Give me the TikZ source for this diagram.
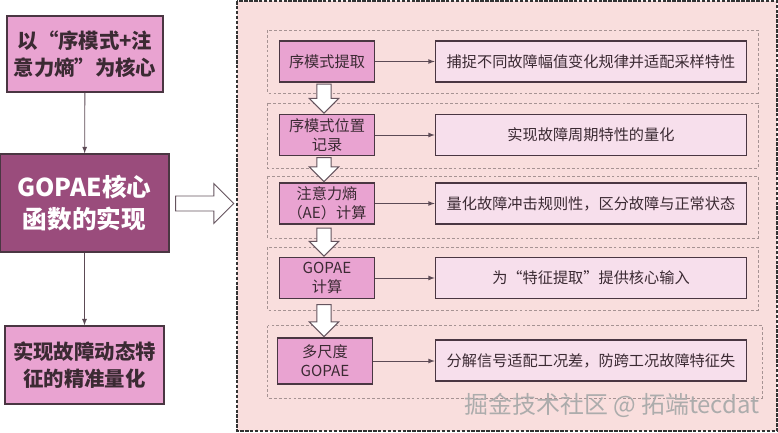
\documentclass[tikz,border=0pt]{standalone}
\usepackage{fontspec}
\newfontfamily\cjk{Noto Sans CJK SC}
\usetikzlibrary{shapes.arrows,calc}

\definecolor{pinkbox}{HTML}{E9A3D1}
\definecolor{corebox}{HTML}{9A4C7C}
\definecolor{panelbg}{HTML}{F9DEDD}
\definecolor{stepfill}{HTML}{F7DFEC}
\definecolor{edgecol}{HTML}{4A3642}
\definecolor{inkcol}{HTML}{3B2A33}

\begin{document}
\begin{tikzpicture}[x=0.025cm, y=-0.025cm, >=latex,
    goalbox/.style={draw=edgecol, line width=0.9pt, fill=pinkbox, text=inkcol, align=center, inner sep=0pt,
        font=\cjk\bfseries\fontsize{14.5}{19}\selectfont},
    corenode/.style={draw=edgecol, line width=0.9pt, fill=corebox, text=white, align=center, inner sep=0pt,
        font=\cjk\bfseries\fontsize{17.5}{23}\selectfont},
    stepbox/.style={draw=edgecol, line width=0.9pt, fill=pinkbox, text=inkcol, align=center, inner sep=0pt,
        minimum width=2.375cm, minimum height=1.025cm, font=\cjk\fontsize{10.8}{13.5}\selectfont},
    resultbox/.style={draw=edgecol, line width=0.9pt, fill=stepfill, text=inkcol, align=center, inner sep=0pt,
        minimum width=7.78cm, minimum height=1.025cm, font=\cjk\fontsize{10.8}{13.5}\selectfont},
    groupframe/.style={draw=gray!70!pink, line width=0.4pt, dash pattern=on 2pt off 1.5pt},
    flowline/.style={->, draw=edgecol!90, line width=0.6pt},
    fatarrow/.style={single arrow, draw=edgecol!85, fill=white, line width=0.7pt, inner sep=0.175cm,
        single arrow head extend=0.3125cm, minimum height=1.45cm},
    downarrow/.style={single arrow, shape border rotate=270, draw=edgecol!85, fill=white, line width=0.7pt,
        inner sep=0.165cm, single arrow head extend=0.19cm, anchor=tip}]

    \useasboundingbox (0,0) rectangle (778,433);

    % left column
    \node[goalbox, minimum width=3.9cm, minimum height=1.9cm] (aim) at (85,54) {以“序模式+注\\意力熵”为核心};
    \node[corenode, minimum width=4.225cm, minimum height=2.45cm] (core) at (84.5,203) {GOPAE核心\\函数的实现};
    \node[goalbox, minimum width=3.975cm, minimum height=1.95cm] (goal) at (84.5,365) {实现故障动态特\\征的精准量化};
    \draw[flowline] (aim) -- (core);
    \draw[flowline] (core) -- (goal);

    \node[fatarrow] (toright) at (201,203.5) {};

    % right panel
    \draw[draw=gray!40!black, line width=1.2pt, dash pattern=on 2.5pt off 1pt, fill=panelbg] (237,1) rectangle (777,431);

    \draw[groupframe] (267.6,30) rectangle (758,93);
    \draw[groupframe] (267.6,103) rectangle (758,168);
    \draw[groupframe] (267.6,176) rectangle (758,238);
    \draw[groupframe] (267.6,247) rectangle (758,310);
    \draw[groupframe] (267.6,325.5) rectangle (762,398);

    \node[stepbox] (s1) at (327,61.5) {序模式提取};
    \node[stepbox] (s2) at (327,135) {序模式位置\\记录};
    \node[stepbox] (s3) at (327,203.5) {注意力熵\\（AE）计算};
    \node[stepbox] (s4) at (327,278) {GOPAE\\计算};
    \node[stepbox, minimum height=1.15cm] (s5) at (325,361) {多尺度\\GOPAE};

    \node[resultbox] (r1) at (591,61.5) {捕捉不同故障幅值变化规律并适配采样特性};
    \node[resultbox] (r2) at (591,135) {实现故障周期特性的量化};
    \node[resultbox] (r3) at (591,203.5) {量化故障冲击规则性，区分故障与正常状态};
    \node[resultbox] (r4) at (591,278) {为“特征提取”提供核心输入};
    \node[resultbox] (r5) at (591,360.5) {分解信号适配工况差，防跨工况故障特征失};

    \draw[flowline] (s1) -- (r1);
    \draw[flowline] (s2) -- (r2);
    \draw[flowline] (s3) -- (r3);
    \draw[flowline] (s4) -- (r4);
    \draw[flowline] (s5.east) -- (r5.west |- s5.east);

    \node[downarrow, minimum height=0.725cm] (d12) at ($(s2.north)+(-3,0)$) {};
    \node[downarrow, minimum height=0.6cm] (d23) at ($(s3.north)+(-3,0)$) {};
    \node[downarrow, minimum height=0.7cm] (d34) at ($(s4.north)+(-3,0)$) {};
    \node[downarrow, minimum height=0.8cm] (d45) at ($(s5.north)+(-1,0)$) {};

    \node[text=gray!65, font=\cjk\fontsize{17}{17}\selectfont] (mark) at (612,405) {掘金技术社区 @ 拓端tecdat};
\end{tikzpicture}
\end{document}
